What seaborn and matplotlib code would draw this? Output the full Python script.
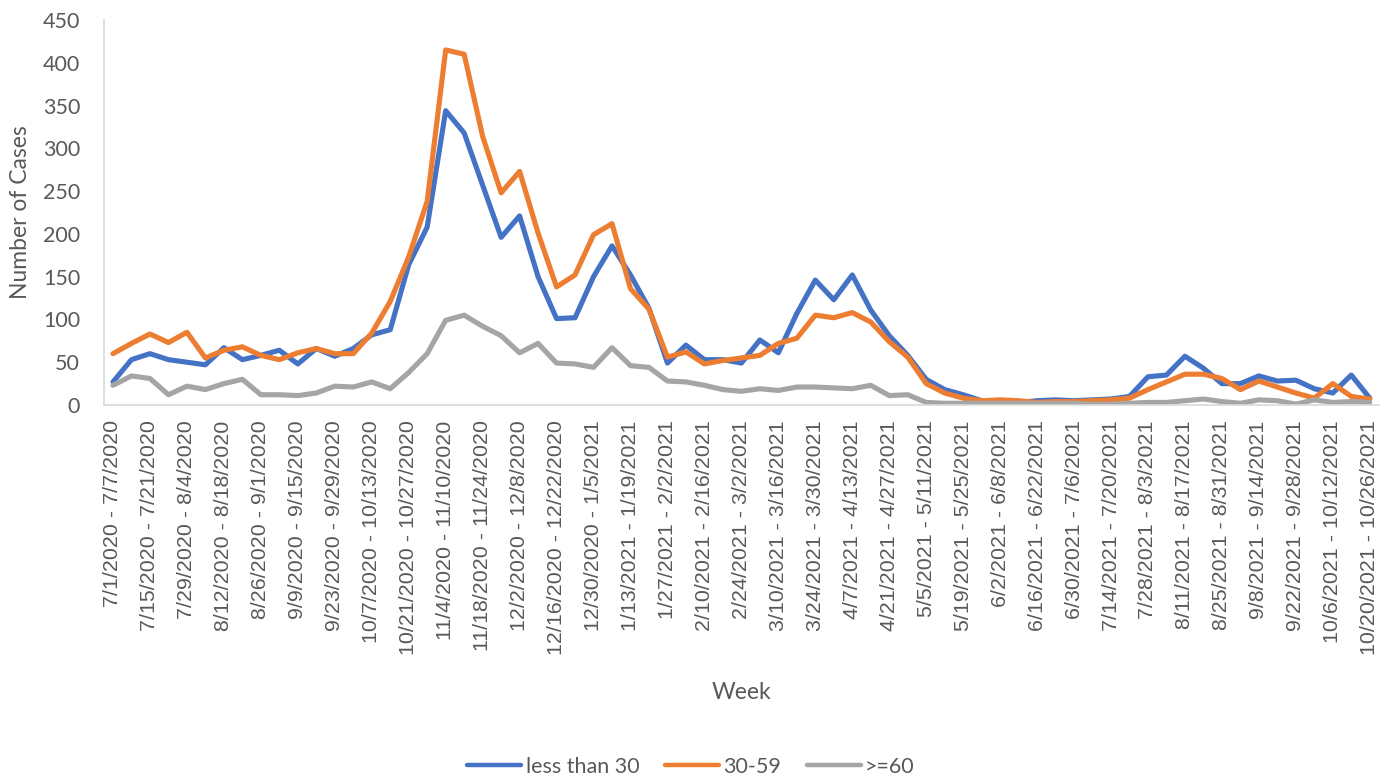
import numpy as np
import pandas as pd
import matplotlib
matplotlib.use("Agg")
import matplotlib.pyplot as plt
import seaborn as sns

# weekly case counts by age group, 7/1/2020 .. 10/26/2021
under_30 = [27, 53, 60, 53, 50, 47, 67, 53, 58, 64, 48, 66, 57, 66, 82, 88, 164, 208,
            344, 318, 257, 196, 221, 150, 101, 102, 150, 186, 152, 113, 49, 70, 53, 53,
            49, 76, 61, 107, 146, 123, 152, 111, 81, 58, 30, 18, 12, 5, 1, 3, 5, 6, 5, 6,
            7, 10, 33, 35, 57, 43, 25, 25, 34, 28, 29, 19, 14, 35, 8]
age_30_59 = [60, 72, 83, 73, 85, 55, 64, 68, 58, 53, 61, 66, 60, 60, 84, 121, 173, 238,
             415, 410, 314, 248, 273, 201, 138, 152, 199, 212, 136, 112, 56, 62, 48, 52,
             55, 58, 72, 78, 105, 102, 108, 97, 74, 56, 25, 14, 8, 5, 6, 5, 3, 4, 4, 5,
             6, 8, 18, 27, 36, 36, 31, 18, 28, 21, 14, 8, 25, 10, 7]
over_60 = [23, 34, 31, 12, 22, 18, 25, 30, 12, 12, 11, 14, 22, 21, 27, 19, 38, 60,
           99, 105, 92, 81, 61, 72, 49, 48, 44, 67, 46, 44, 28, 27, 23, 18,
           16, 19, 17, 21, 21, 20, 19, 23, 11, 12, 3, 2, 2, 2, 2, 2, 2, 2, 2, 1,
           1, 2, 3, 3, 5, 7, 4, 2, 6, 5, 1, 6, 3, 4, 3]

groups = ["less than 30", "30-59", ">=60"]
colors = ["#4472C4", "#ED7D31", "#A5A5A5"]

starts = pd.date_range("2020-07-01", periods=len(under_30), freq="7D")
week_labels = [f"{s.month}/{s.day}/{s.year} - {e.month}/{e.day}/{e.year}"
               for s, e in zip(starts, starts + pd.Timedelta(days=6))]

rows = []
for g, vals in zip(groups, [under_30, age_30_59, over_60]):
    for i, v in enumerate(vals):
        rows.append({"week": i, "cases": v, "group": g})
df = pd.DataFrame(rows)

sns.set_theme(style="white")
plt.rcParams["font.family"] = ["Lato", "DejaVu Sans"]
text_color = "#595959"

fig = plt.figure(figsize=(13.92, 7.77), dpi=100)
ax = fig.add_axes([103.75 / 1392, 1 - 405 / 777, (1379 - 103.75) / 1392, 385 / 777])

sns.lineplot(data=df, x="week", y="cases", hue="group", hue_order=groups,
             palette=colors, linewidth=3.7, ax=ax, legend=False,
             solid_joinstyle="round", solid_capstyle="round")

ax.set_xlim(-0.5, len(under_30) - 0.5)
ax.set_ylim(0, 450)
ax.set_yticks(np.arange(0, 451, 50))
ax.set_xticks(range(0, len(week_labels), 2))
ax.set_xticklabels(week_labels[::2], rotation=90, fontsize=15.4,
                   family=["Liberation Sans", "DejaVu Sans"], color=text_color)
ax.tick_params(axis="x", length=0, pad=11)
ax.tick_params(axis="y", length=0, pad=17, labelsize=15.5, labelcolor=text_color)

for side in ["top", "right"]:
    ax.spines[side].set_visible(False)
for side in ["left", "bottom"]:
    ax.spines[side].set_color("#D9D9D9")
    ax.spines[side].set_linewidth(1.2)

ax.set_ylabel("Number of Cases", fontsize=16.5, color=text_color, va="center")
ax.yaxis.set_label_coords(-0.0649, 0.5)
ax.set_xlabel("Week", fontsize=16.5, color=text_color, va="center")
ax.xaxis.set_label_coords(0.5, -(693 - 405) / 385)

handles = [plt.Line2D([], [], color=c, linewidth=3.2, solid_capstyle="round") for c in colors]
fig.legend(handles, groups, loc="center", bbox_to_anchor=(0.4964, 0.0135), ncol=3,
           frameon=False, fontsize=15.5, handlelength=2.5, handletextpad=0.2,
           columnspacing=1.2, labelcolor=text_color)

fig.savefig("out.png", dpi=100)
